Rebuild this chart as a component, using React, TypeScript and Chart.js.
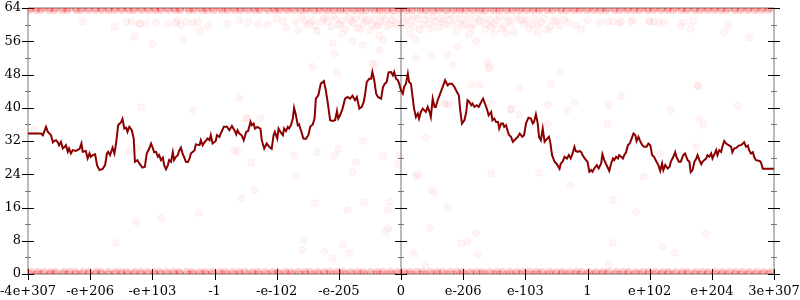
import { useEffect, useRef } from 'react';
import { Chart, registerables } from 'chart.js';

Chart.register(...registerables);

// ---- axis ticks ----
const xTickValues = [-6, -5, -4, -3, -2, -1, 0, 1, 2, 3, 4, 5, 6];
const xTickLabels = ['-4e+307', '-e+206', '-e+103', '-1', '-e-102', '-e-205', '0', 'e-206', 'e-103', '1', 'e+102', 'e+204', '3e+307'];
const yMajorTicks = [0, 8, 16, 24, 32, 40, 48, 56, 64];
const yMinorTicks = [4, 12, 20, 28, 36, 44, 52, 60];
const verticalAxes = [-6, 0, 6];

// ---- main line series ----
const lineX = [
  -6.0, -5.79, -5.76, -5.71, -5.68, -5.63, -5.60, -5.58, -5.55, -5.52, -5.50, -5.47, -5.44, -5.41, -5.39, -5.36, -5.34, -5.31, -5.28, -5.23,
  -5.17, -5.14, -5.12, -5.07, -5.04, -5.01, -4.99, -4.96, -4.92, -4.89, -4.85, -4.80, -4.76, -4.73, -4.71, -4.68, -4.64, -4.61, -4.58, -4.55,
  -4.50, -4.48, -4.45, -4.42, -4.40, -4.37, -4.33, -4.30, -4.28, -4.24, -4.21, -4.16, -4.12, -4.09, -4.05, -4.02, -3.99, -3.97, -3.94, -3.91,
  -3.89, -3.86, -3.83, -3.81, -3.78, -3.75, -3.73, -3.70, -3.67, -3.65, -3.62, -3.59, -3.57, -3.54, -3.51, -3.49, -3.46, -3.43, -3.40, -3.38,
  -3.32, -3.30, -3.24, -3.22, -3.19, -3.16, -3.11, -3.08, -3.06, -3.03, -2.98,
  -2.96, -2.92, -2.90, -2.85, -2.80, -2.76, -2.72, -2.68, -2.65, -2.63, -2.60, -2.56, -2.53, -2.49, -2.46, -2.42, -2.40, -2.37, -2.35, -2.31,
  -2.26, -2.24, -2.20, -2.16, -2.12, -2.08, -2.05, -2.03, -1.99, -1.97, -1.94, -1.90, -1.88, -1.85, -1.82, -1.80, -1.77, -1.74, -1.72, -1.69,
  -1.66, -1.64, -1.61, -1.57, -1.53, -1.49, -1.46, -1.42, -1.39, -1.37, -1.33, -1.29, -1.24, -1.21, -1.18, -1.14, -1.10, -1.06, -1.03, -1.01,
  -0.98, -0.94, -0.90, -0.86, -0.82, -0.78, -0.74, -0.71, -0.67, -0.63, -0.60, -0.58, -0.55, -0.51, -0.48, -0.46, -0.43, -0.40, -0.37, -0.32,
  -0.29, -0.26, -0.23, -0.20, -0.16, -0.13, -0.11, -0.08, -0.05, -0.03, 0.0, 0.03, 0.05, 0.08,
  0.11, 0.13, 0.16, 0.19, 0.21, 0.24, 0.27, 0.29, 0.32, 0.35, 0.40, 0.43, 0.46, 0.48, 0.51, 0.54, 0.56, 0.59, 0.62, 0.66,
  0.68, 0.71, 0.75, 0.78, 0.82, 0.86, 0.90, 0.93, 0.95, 0.98, 1.02, 1.05, 1.07, 1.10, 1.13, 1.15, 1.18, 1.22, 1.25, 1.29,
  1.32, 1.36, 1.38, 1.41, 1.45, 1.47, 1.50, 1.53, 1.56, 1.58, 1.61, 1.64, 1.66, 1.69, 1.72, 1.74, 1.77, 1.80, 1.85, 1.88,
  1.91, 1.95, 1.98, 2.01, 2.05, 2.09, 2.12, 2.14, 2.17, 2.20, 2.22, 2.25, 2.28, 2.31, 2.33, 2.38, 2.40, 2.43, 2.47, 2.50,
  2.55, 2.57, 2.60, 2.63, 2.67, 2.70, 2.73, 2.76, 2.79, 2.81, 2.84, 2.87, 2.90, 2.92, 2.96, 3.00, 3.03, 3.06,
  3.08, 3.11, 3.15, 3.18, 3.22, 3.24, 3.27, 3.30, 3.32, 3.35, 3.38, 3.41, 3.43, 3.46, 3.49, 3.51, 3.54, 3.57, 3.59, 3.62,
  3.65, 3.68, 3.72, 3.74, 3.77, 3.79, 3.82, 3.84, 3.88, 3.91, 3.95, 3.98, 4.01, 4.04, 4.07, 4.11, 4.14, 4.17, 4.20, 4.22,
  4.25, 4.29, 4.32, 4.34, 4.38, 4.41, 4.43, 4.47, 4.50, 4.54, 4.57, 4.61, 4.64, 4.66, 4.69, 4.72, 4.75, 4.77, 4.80, 4.83,
  4.85, 4.88, 4.91, 4.93, 4.96, 4.99, 5.01, 5.04, 5.07, 5.09, 5.12, 5.15, 5.17, 5.20, 5.23, 5.27, 5.31, 5.33, 5.36, 5.40,
  5.43, 5.47, 5.50, 5.52, 5.55, 5.58, 5.60, 5.63, 5.66, 5.68, 5.71, 5.77, 5.79, 5.82, 6.0,
];
const lineY = [
  33.8, 33.8, 33.4, 35.4, 34.2, 33.4, 31.7, 32.0, 32.2, 31.7, 31.0, 31.8, 30.2, 30.6, 31.0, 29.4, 30.2, 29.0, 29.8, 29.6,
  30.1, 31.4, 29.4, 29.6, 27.8, 29.0, 28.2, 28.6, 28.8, 26.2, 25.0, 25.3, 26.2, 29.0, 29.4, 28.6, 30.4, 29.0, 31.8, 35.8,
  36.6, 37.3, 35.0, 35.2, 34.2, 35.4, 34.6, 32.6, 27.0, 27.4, 26.6, 25.6, 25.8, 29.0, 30.2, 31.4, 30.2, 29.3, 29.4, 28.2,
  28.6, 27.4, 28.0, 26.2, 25.2, 26.2, 27.4, 27.0, 29.3, 27.4, 28.2, 28.6, 29.6, 30.4, 28.8, 28.2, 27.0, 26.9, 27.8, 29.0,
  29.8, 31.2, 31.0, 32.2, 31.0, 31.7, 32.6, 32.2, 33.4, 31.4, 32.0,
  33.4, 33.0, 33.8, 35.4, 35.4, 34.6, 35.6, 34.6, 33.6, 34.6, 33.8, 33.3, 32.2, 34.2, 34.4, 36.6, 35.8, 36.2, 35.0, 35.4,
  34.9, 32.2, 30.2, 31.4, 30.6, 30.1, 33.4, 34.2, 32.6, 35.0, 34.2, 33.4, 35.0, 34.4, 35.4, 35.0, 35.8, 37.4, 40.0, 38.2,
  35.8, 36.0, 34.6, 32.6, 32.5, 33.4, 35.4, 36.0, 37.4, 42.2, 43.0, 45.8, 46.4, 44.2, 41.4, 37.0, 36.8, 37.0, 39.2, 37.4,
  38.2, 39.8, 42.2, 42.6, 42.2, 42.9, 41.8, 42.6, 39.8, 40.2, 41.4, 43.0, 46.2, 47.0, 47.0, 48.6, 46.6, 43.4, 42.6, 42.2,
  45.0, 45.8, 46.2, 48.5, 48.6, 47.8, 48.6, 47.0, 46.6, 45.8, 44.2, 43.4, 45.0, 45.8,
  48.2, 46.2, 45.8, 42.2, 39.8, 37.8, 38.6, 37.4, 39.0, 39.8, 39.0, 40.2, 39.0, 37.8, 42.2, 40.2, 40.2, 41.8, 43.0, 44.6,
  45.4, 46.6, 45.4, 45.8, 45.8, 45.0, 43.8, 43.0, 39.8, 36.2, 37.0, 39.0, 41.8, 41.4, 40.6, 41.0, 40.2, 40.6, 40.2, 41.4,
  42.2, 40.6, 39.8, 38.2, 39.0, 37.0, 37.4, 36.6, 36.6, 35.0, 36.2, 36.2, 35.4, 35.8, 34.2, 33.4, 33.0, 31.8, 32.6, 33.0,
  33.8, 33.0, 33.4, 36.2, 37.6, 37.4, 36.2, 36.6, 38.4, 36.2, 33.0, 32.2, 35.0, 31.8, 32.2, 33.0, 31.8, 28.6, 27.0, 26.6,
  25.3, 26.6, 27.0, 28.2, 27.8, 28.6, 27.8, 29.0, 30.6, 29.6, 29.4, 29.6, 29.3, 28.6, 27.7, 27.0, 24.6, 25.0,
  24.6, 25.4, 26.2, 25.4, 26.6, 28.8, 27.4, 26.4, 25.8, 24.8, 26.6, 27.8, 27.4, 28.2, 27.8, 28.6, 28.2, 27.8, 28.6, 29.3,
  31.0, 31.4, 33.0, 33.8, 33.4, 32.0, 33.0, 32.2, 31.0, 30.6, 30.6, 31.4, 31.0, 28.6, 28.2, 27.0, 26.2, 24.8, 26.6, 25.0,
  26.2, 25.4, 25.8, 27.0, 28.2, 29.3, 28.2, 27.0, 27.0, 28.6, 29.0, 27.4, 27.0, 24.5, 25.0, 27.0, 27.8, 28.6, 27.4, 26.4,
  27.0, 27.4, 27.8, 28.6, 28.2, 29.0, 27.8, 28.8, 29.8, 28.6, 29.8, 29.4, 30.6, 32.0, 31.4, 31.0, 30.6, 29.3, 30.2, 30.4,
  30.9, 31.0, 31.4, 31.7, 30.6, 30.9, 29.8, 29.0, 29.3, 28.2, 27.4, 27.2, 26.9, 25.3, 25.3,
];

// ---- faint scatter: dense bands along the top (64) and bottom (0) edges ----
const bandXA = [
  -5.98, -5.87, -5.79, -5.66, -5.58, -5.45, -5.37, -5.22, -5.15, -5.03, -4.92, -4.81, -4.7, -4.61, -4.49, -4.38, -4.3, -4.17, -4.06, -3.95,
  -3.86, -3.74, -3.63, -3.55, -3.41, -3.33, -3.2, -3.12, -3.01, -2.88, -2.79, -2.67, -2.58, -2.46, -2.35, -2.27, -2.14, -2.03, -1.95, -1.83,
  -1.72, -1.61, -1.52, -1.4, -1.31, -1.19, -1.08, -0.97, -0.88, -0.76, -0.65, -0.56, -0.43, -0.34, -0.22, -0.13, -0.02, 0.09, 0.18, 0.31,
  0.4, 0.52, 0.61, 0.73, 0.84, 0.95, 1.04, 1.16, 1.27, 1.36, 1.49, 1.58, 1.7, 1.79, 1.91, 2.02, 2.13, 2.22, 2.35, 2.44,
  2.57, 2.66, 2.78, 2.87, 2.99, 3.1, 3.21, 3.3, 3.43, 3.52, 3.64, 3.75, 3.84, 3.97, 4.06, 4.18, 4.29, 4.38, 4.51, 4.6,
  4.72, 4.81, 4.93, 5.04, 5.15, 5.24, 5.37, 5.46, 5.58, 5.69, 5.8, 5.91,
];
const bandXB = [
  -5.95, -5.84, -5.74, -5.63, -5.55, -5.42, -5.33, -5.24, -5.11, -5.02, -4.9, -4.83, -4.71, -4.59, -4.5, -4.41, -4.28, -4.19, -4.08, -3.97,
  -3.88, -3.77, -3.66, -3.57, -3.45, -3.36, -3.24, -3.15, -3.04, -2.92, -2.83, -2.71, -2.6, -2.51, -2.39, -2.3, -2.18, -2.07, -1.98, -1.86,
  -1.77, -1.65, -1.54, -1.46, -1.34, -1.23, -1.14, -1.02, -0.93, -0.81, -0.7, -0.61, -0.49, -0.38, -0.29, -0.17, -0.06, 0.05, 0.14, 0.26,
  0.35, 0.47, 0.58, 0.67, 0.79, 0.9, 0.99, 1.11, 1.22, 1.31, 1.43, 1.54, 1.63, 1.75, 1.86, 1.95, 2.07, 2.18, 2.27, 2.39,
  2.5, 2.59, 2.71, 2.82, 2.91, 3.03, 3.14, 3.25, 3.34, 3.46, 3.57, 3.66, 3.78, 3.89, 3.98, 4.1, 4.21, 4.3, 4.42, 4.53,
  4.62, 4.74, 4.85, 4.94, 5.06, 5.17, 5.28, 5.38, 5.49, 5.6, 5.72, 5.83, 5.94,
];
const topBandY = [64, 63.5];
const bottomBandY = [0, 0.5];

// ---- faint scatter: cloud below the top band and sparse points ----
const cloudPoints: [number, number][] = [
  [-4.2, 60.2], [-3.6, 60.9], [-3.1, 59.6], [-2.6, 61.0], [-2.3, 60.1], [-2.0, 61.4], [-1.85, 59.3], [-1.7, 60.6], [-1.6, 61.8], [-1.5, 59.9],
  [-1.42, 61.1], [-1.35, 58.4], [-1.28, 60.7], [-1.2, 62.0], [-1.12, 59.5], [-1.05, 61.3], [-0.98, 60.2], [-0.9, 58.9], [-0.84, 61.7], [-0.77, 60.4],
  [-0.7, 59.2], [-0.63, 61.9], [-0.56, 60.8], [-0.5, 58.6], [-0.43, 61.4], [-0.36, 60.0], [-0.3, 62.1], [-0.22, 59.4], [-0.15, 61.0], [-0.08, 60.3],
  [0.02, 61.6], [0.09, 59.7], [0.16, 60.9], [0.24, 62.0], [0.3, 58.8], [0.38, 61.2], [0.45, 60.1], [0.52, 61.8], [0.6, 59.3], [0.67, 60.7],
  [0.74, 62.2], [0.82, 60.0], [0.9, 58.5], [0.97, 61.4], [1.05, 60.3], [1.13, 59.1], [1.2, 61.7], [1.28, 60.6], [1.35, 58.9], [1.43, 61.1],
  [1.5, 60.0], [1.58, 62.0], [1.66, 59.6], [1.74, 60.9], [1.82, 58.2], [1.9, 61.3], [1.98, 60.2], [2.07, 59.0], [2.15, 61.5], [2.25, 60.4],
  [2.35, 58.7], [2.45, 61.0], [2.55, 59.8], [2.7, 60.6], [2.9, 58.9], [3.2, 60.5], [4.0, 60.8], [4.5, 59.6], [5.2, 58.0],
  [-1.46, 60.4], [-1.25, 61.5], [-1.0, 59.8], [-0.8, 60.9], [-0.6, 60.2], [-0.4, 59.6], [-0.25, 61.3], [-0.05, 59.9], [0.12, 61.9], [0.35, 60.0],
  [0.55, 60.8], [0.78, 61.2], [1.0, 59.7], [1.25, 61.0], [1.45, 59.4], [1.7, 61.6], [1.95, 61.0], [2.2, 59.9],
  [-1.55, 60.9], [-1.38, 59.7], [-1.18, 60.8], [-1.08, 62.1], [-0.94, 61.0], [-0.73, 61.6], [-0.66, 58.9], [-0.53, 61.2], [-0.46, 59.9], [-0.33, 60.7],
  [-0.18, 60.1], [-0.11, 62.0], [0.05, 60.5], [0.2, 59.4], [0.27, 61.4], [0.42, 62.1], [0.49, 59.0], [0.63, 61.5], [0.7, 60.0], [0.86, 61.9],
  [0.93, 60.4], [1.09, 61.8], [1.16, 60.0], [1.32, 61.9], [1.39, 60.2], [1.54, 61.0], [1.62, 59.0], [1.78, 60.3], [1.86, 62.1], [2.02, 61.2],
  [2.11, 60.0], [2.3, 61.6], [2.4, 59.5], [2.5, 60.8], [2.62, 61.3], [-1.9, 60.8], [-2.15, 59.9], [-2.45, 60.6], [-2.8, 60.2], [3.0, 61.0],
  [2.8, 59.8], [-1.65, 58.6], [0.15, 57.8], [1.1, 57.6], [-0.35, 57.4], [1.7, 57.9], [-0.95, 57.8], [2.2, 58.1],
  [3.33, 60.7], [3.41, 60.7], [3.51, 60.4], [3.54, 60.7], [3.70, 60.7], [3.73, 61.0], [3.99, 60.7], [4.07, 60.7], [4.15, 60.4], [4.23, 60.7],
  [4.54, 60.5], [4.70, 60.9], [4.66, 59.0], [5.26, 59.7], [5.60, 56.8], [4.78, 45.2], [3.54, 42.7],
  [-5.12, 60.7], [-4.61, 59.5], [-4.42, 60.7], [-4.34, 60.7], [-4.21, 60.3], [-4.10, 60.3], [-3.94, 60.5], [-3.75, 60.3], [-3.62, 60.5], [-3.54, 59.9],
  [-3.46, 60.7], [-3.35, 60.5], [-3.27, 60.7], [-3.24, 58.7], [-4.29, 57.1], [-3.99, 55.3], [-3.51, 56.5],
  [-1.42, 49.9], [-1.10, 55.5], [-1.07, 53.1], [-0.78, 56.0], [-0.62, 55.1], [-0.35, 53.9], [-0.46, 50.7], [-0.29, 56.3], [0.24, 56.3], [0.24, 51.9],
  [0.48, 52.7], [0.75, 52.7], [0.91, 54.7], [1.21, 56.0], [1.39, 51.1], [1.42, 49.9], [1.50, 57.9], [1.13, 45.5], [0.67, 45.9],
  [-1.39, 17.0], [-0.86, 15.4], [-0.59, 17.2], [-0.19, 17.4], [-0.21, 15.4], [0.46, 11.0], [-0.20, 11.0], [-0.24, 10.2], [-1.56, 8.2], [-0.94, 7.0],
  [-1.23, 5.4], [-0.83, 5.0], [-1.10, 3.8], [-1.58, 5.8], [0.21, 5.0], [0.40, 2.2], [0.97, 7.4], [1.07, 7.8], [1.21, 9.8], [1.23, 4.6], [0.75, 16.2],
  [-4.26, 12.6], [-3.86, 13.4], [-4.58, 7.5], [-3.25, 14.7],
  [3.41, 17.8], [3.78, 15.0], [3.41, 7.5], [4.21, 6.6], [4.40, 5.1], [4.91, 9.8], [3.35, 2.2],
  [-4.18, 40.1], [-3.35, 39.5], [-2.49, 37.5], [-2.68, 29.8], [-2.63, 29.4], [-2.41, 26.8], [-1.72, 28.6], [-1.69, 23.3], [-2.35, 20.2], [-2.57, 18.2],
  [0.40, 32.9], [0.70, 41.1], [0.78, 40.7], [1.77, 39.6], [1.90, 38.3], [2.36, 40.7], [2.79, 41.2], [2.68, 39.5], [2.36, 36.1], [0.24, 23.6],
  [1.45, 24.2], [2.22, 24.4], [0.48, 20.2], [0.54, 19.4], [2.73, 21.4],
  [-5.90, 34.6], [-4.37, 29.6], [-4.24, 30.4],
  [3.34, 40.5], [3.32, 36.0], [4.34, 39.6], [4.77, 45.3], [4.80, 37.3], [4.86, 35.9], [5.42, 40.5], [4.75, 30.6], [4.17, 29.0], [3.90, 23.4],
  [-2.60, 42.3], [-2.48, 37.5], [-2.26, 37.5], [-1.02, 48.5], [-0.43, 50.3], [-1.35, 29.3], [-1.07, 28.5], [-1.01, 30.1], [-0.72, 26.9], [-0.62, 32.0],
  [-0.78, 24.6], [-0.29, 28.5], [-0.03, 28.6], [-0.05, 26.4],
  [0.83, 50.3], [1.42, 49.5], [1.26, 45.5], [1.90, 44.7], [2.41, 45.6], [2.57, 48.7], [0.72, 40.8], [1.45, 41.1], [1.77, 39.7], [0.27, 23.8], [1.66, 33.9],
];

const FONT = { family: "'DejaVu Serif', serif", size: 13 };

const crossAxes = {
  id: 'crossAxes',
  beforeDatasetsDraw(chart: any) {
    const { ctx, chartArea: a, scales } = chart;
    const xs = scales.x;
    const ys = scales.y;
    ctx.save();
    // axis lines
    ctx.lineWidth = 2;
    ctx.strokeStyle = 'rgba(140,140,140,0.6)';
    ctx.beginPath();
    ctx.moveTo(a.left, a.bottom);
    ctx.lineTo(a.right, a.bottom);
    ctx.moveTo(a.left, a.top);
    ctx.lineTo(a.right, a.top);
    verticalAxes.forEach((v) => {
      const px = Math.round(xs.getPixelForValue(v));
      ctx.moveTo(px, a.top);
      ctx.lineTo(px, a.bottom);
    });
    ctx.stroke();
    // minor y ticks
    ctx.lineWidth = 1;
    ctx.strokeStyle = '#777';
    ctx.beginPath();
    verticalAxes.forEach((v) => {
      const px = Math.round(xs.getPixelForValue(v));
      yMinorTicks.forEach((t) => {
        const py = Math.round(ys.getPixelForValue(t)) + 0.5;
        ctx.moveTo(px - 3, py);
        ctx.lineTo(px + 3, py);
      });
    });
    ctx.stroke();
    // major y ticks
    ctx.strokeStyle = '#000';
    ctx.beginPath();
    verticalAxes.forEach((v) => {
      const px = Math.round(xs.getPixelForValue(v));
      yMajorTicks.forEach((t) => {
        const py = Math.round(ys.getPixelForValue(t)) + 0.5;
        ctx.moveTo(px - 6, py);
        ctx.lineTo(px + 6, py);
      });
    });
    // x ticks
    xTickValues.forEach((t) => {
      const px = Math.round(xs.getPixelForValue(t)) + 0.5;
      ctx.moveTo(px, a.bottom - 5);
      ctx.lineTo(px, a.bottom + 6);
    });
    ctx.stroke();
    ctx.restore();
  },
};

export default function App() {
  const ref = useRef<HTMLCanvasElement | null>(null);

  useEffect(() => {
    document.body.style.margin = '0';
    const canvas = ref.current;
    if (!canvas) return;

    const bandX = [...bandXA, ...bandXB];
    const lineData = lineX.map((x, i) => ({ x, y: lineY[i] }));
    const topData = topBandY.flatMap((y, k) => (k === 0 ? bandX : bandXA).map((x) => ({ x, y })));
    const bottomData = bottomBandY.flatMap((y, k) => (k === 0 ? bandX : bandXB).map((x) => ({ x, y })));
    const cloudData = cloudPoints.map(([x, y]) => ({ x, y }));

    const bandStyle = {
      pointRadius: 3.5,
      backgroundColor: 'rgba(255,0,0,0.1)',
      borderColor: 'rgba(230,0,0,0.18)',
      borderWidth: 1,
      clip: 0,
    };

    const chart = new Chart(canvas, {
      type: 'scatter',
      data: {
        datasets: [
          {
            data: lineData,
            showLine: true,
            borderColor: '#8b0000',
            backgroundColor: '#8b0000',
            borderWidth: 2,
            pointRadius: 0,
            tension: 0,
          } as any,
          {
            data: cloudData,
            pointRadius: 3.5,
            backgroundColor: 'rgba(255,0,0,0.04)',
            borderColor: 'rgba(255,0,0,0.05)',
            borderWidth: 1,
            clip: 0,
          } as any,
          { data: topData, ...bandStyle } as any,
          { data: bottomData, ...bandStyle } as any,
        ],
      },
      options: {
        responsive: false,
        animation: false,
        events: [],
        layout: { padding: { top: 8, right: 26, left: 0, bottom: 0 } },
        plugins: { legend: { display: false }, tooltip: { enabled: false } },
        scales: {
          x: {
            type: 'linear',
            min: -6,
            max: 6,
            afterBuildTicks: (s: any) => {
              s.ticks = xTickValues.map((v) => ({ value: v }));
            },
            afterFit: (s: any) => {
              s.height = 26;
              s.paddingLeft = 0;
              s.paddingRight = 0;
            },
            ticks: {
              autoSkip: false,
              maxRotation: 0,
              minRotation: 0,
              padding: 10,
              color: '#000',
              font: FONT,
              callback: (_v: any, i: number) => xTickLabels[i],
            },
            grid: { display: false, drawTicks: false },
            border: { display: false },
          },
          y: {
            type: 'linear',
            min: 0,
            max: 64,
            afterBuildTicks: (s: any) => {
              s.ticks = yMajorTicks.map((v) => ({ value: v }));
            },
            afterFit: (s: any) => {
              s.width = 28;
              s.paddingTop = 0;
              s.paddingBottom = 0;
            },
            ticks: {
              padding: 7,
              color: '#000',
              font: FONT,
              callback: (v: any) => String(v),
            },
            grid: { display: false, drawTicks: false },
            border: { display: false },
          },
        },
      } as any,
      plugins: [crossAxes],
    });

    return () => chart.destroy();
  }, []);

  return <canvas ref={ref} width={800} height={300} style={{ display: 'block' }} />;
}
